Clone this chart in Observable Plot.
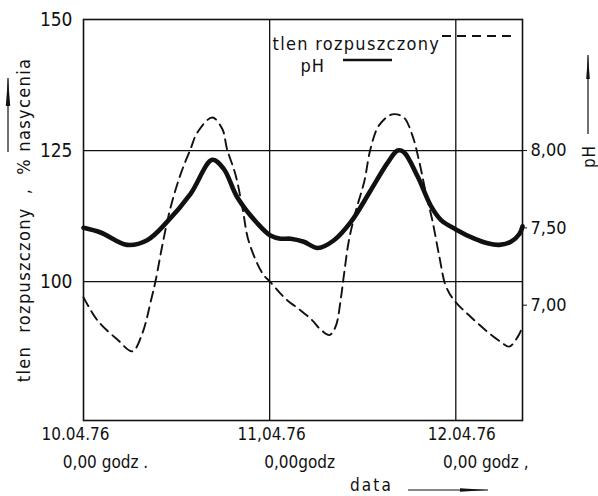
<!DOCTYPE html>
<html>
<head>
<meta charset="utf-8">
<script src="https://cdn.jsdelivr.net/npm/d3@7"></script>
<script src="https://cdn.jsdelivr.net/npm/@observablehq/plot@0.6"></script>
<style>
  html, body { margin: 0; padding: 0; background: #fff; }
  svg { display: block; }
</style>
</head>
<body>
<div id="chart"></div>
<script>
// ---- data ----
const phHours = [0, 2.2, 5.6, 8.2, 10.8, 13.8, 16.6, 18.1, 19.8, 22.4, 24.1, 25.4, 26.7, 28.4, 30.2, 32.3, 34.5, 37.0, 39.2, 40.5, 41.3, 43.1, 44.8, 46.1, 48.0, 50.4, 52.1, 53.6, 55.1, 56.2, 56.6];
const phValues = [7.50, 7.47, 7.39, 7.42, 7.54, 7.72, 7.94, 7.88, 7.70, 7.53, 7.45, 7.43, 7.43, 7.41, 7.37, 7.42, 7.54, 7.74, 7.92, 8.00, 7.99, 7.83, 7.64, 7.55, 7.49, 7.43, 7.40, 7.39, 7.41, 7.46, 7.51];

const o2Hours = [0, 1.8, 4.4, 6.3, 7.6, 8.7, 9.3, 10.2, 11.2, 12.5, 13.8, 14.7, 16.6, 17.9, 18.5, 19.6, 20.5, 21.3, 23.1, 24.1, 25.4, 26.3, 28.0, 29.5, 30.6, 31.7, 32.5, 33.2, 33.6, 34.2, 35.1, 36.2, 37.0, 38.1, 39.8, 41.3, 42.4, 43.3, 44.1, 45.0, 45.9, 46.7, 47.8, 49.9, 52.1, 53.8, 54.9, 56.0, 56.6];
const o2Values = [97.0, 92.6, 88.9, 86.7, 90.2, 96.4, 100.2, 107.2, 114.0, 120.4, 125.3, 128.5, 131.3, 129.1, 125.3, 120.4, 114.0, 107.7, 101.5, 99.9, 97.7, 96.4, 94.5, 92.6, 90.8, 89.8, 91.4, 97.0, 101.5, 107.7, 113.4, 119.1, 125.3, 129.8, 131.9, 131.3, 127.9, 122.8, 117.2, 111.5, 104.6, 99.2, 96.4, 93.3, 90.4, 88.5, 87.6, 89.5, 91.4];

const leftTicks = [100, 125, 150];
const gridY = [100, 125];
const dayTicks = [0, 24, 48];
const gridX = [24, 48];
const phTicks = [8.00, 7.50, 7.00];
const dateLabels = ["10.04.76", "11,04.76", "12.04.76"];
const timeLabels = ["0,00 godz .", "0,00godz", "0,00 godz ,"];
const yTitle = "tlen  rozpuszczony  ,  % nasycenia";
const y2Title = "pH";
const xTitle = "data";
const legendO2 = "tlen rozpuszczony";
const legendPH = "pH";

// pH drawn on the same vertical scale: 8,00 sits on the 125 line
const K = 29.5;
const toV = ph => 125 + (ph - 8) * K;
const fromV = v => (v - 125) / K + 8;

const phData = phHours.map((h, i) => ({h, v: toV(phValues[i])}));
const o2Data = o2Hours.map((h, i) => ({h, v: o2Values[i]}));

const W = 598, H = 496;
const mL = 83, mR = 76, mT = 19, mB = 76;
const FONT = "'DejaVu Sans Condensed', 'Liberation Sans Narrow', 'DejaVu Sans', sans-serif";

const dateMarks = dateLabels.map((t, i) =>
  Plot.text([t], {x: dayTicks[i], frameAnchor: "bottom", dy: 19, dx: [-8, 2, 6][i], fontSize: 17}));
const timeMarks = timeLabels.map((t, i) =>
  Plot.text([t], {x: dayTicks[i], frameAnchor: "bottom", dy: 47, dx: [22, 30, 30][i], fontSize: 17}));

const chart = Plot.plot({
  width: W, height: H,
  marginLeft: mL, marginRight: mR, marginTop: mT, marginBottom: mB,
  style: {fontFamily: FONT, fontSize: "17px", color: "#111", background: "#fff"},
  x: {domain: [0, 56.6], axis: null},
  y: {domain: [73.5, 150], axis: null},
  marks: [
    Plot.ruleY(gridY, {stroke: "#111", strokeWidth: 1.3}),
    Plot.ruleX(gridX, {stroke: "#111", strokeWidth: 1.3}),
    Plot.frame({stroke: "#111", strokeWidth: 1.6}),
    Plot.line(o2Data, {x: "h", y: "v", stroke: "#111", strokeWidth: 1.9, strokeDasharray: "10,6", curve: "catmull-rom"}),
    Plot.line(phData, {x: "h", y: "v", stroke: "#111", strokeWidth: 4.6, curve: "catmull-rom", strokeLinecap: "round"}),
    Plot.axisY(leftTicks, {anchor: "left", tickSize: 0, tickPadding: 11, fontSize: 19, label: null, tickFormat: d => String(d)}),
    Plot.axisY(phTicks.map(toV), {anchor: "right", tickSize: 4, tickPadding: 4, fontSize: 18, label: null,
      tickFormat: v => fromV(v).toFixed(2).replace(".", ",")}),
    ...dateMarks,
    ...timeMarks,
    Plot.text([yTitle], {frameAnchor: "left", textAnchor: "middle", dx: -59, dy: 0, rotate: -90, fontSize: 18}),
    Plot.text([y2Title], {frameAnchor: "top-right", textAnchor: "middle", dx: 60, dy: 137, rotate: -90, fontSize: 17}),
    Plot.text([xTitle], {frameAnchor: "bottom", dx: 371 - (mL + (W - mL - mR) / 2), dy: 70, fontSize: 17}),
    Plot.text([legendO2], {frameAnchor: "top-left", textAnchor: "start", dx: 189, dy: 18, fontSize: 18}),
    Plot.text([legendPH], {frameAnchor: "top-left", textAnchor: "start", dx: 217, dy: 40, fontSize: 18})
  ]
});

document.getElementById("chart").appendChild(chart);

const svg = d3.select(chart);
// letter spacing of the hand-lettered titles
const spacing = new Map([[yTitle, "1.35px"], [legendO2, "1.3px"], [xTitle, "2.2px"], [legendPH, "1px"]]);
svg.selectAll("text").each(function() {
  const s = spacing.get(this.textContent);
  if (s) d3.select(this).style("letter-spacing", s);
});

// decorative legend samples and arrows
const g = svg.append("g").attr("stroke", "#111").attr("fill", "#111");
g.append("line").attr("x1", 442).attr("x2", 512).attr("y1", 36).attr("y2", 36)
  .attr("stroke-width", 1.9).attr("stroke-dasharray", "9,6");
g.append("line").attr("x1", 343).attr("x2", 392).attr("y1", 60).attr("y2", 60)
  .attr("stroke-width", 2.4);

function arrow(x1, y1, x2, y2, len, wid) {
  g.append("line").attr("x1", x1).attr("y1", y1).attr("x2", x2).attr("y2", y2).attr("stroke-width", 1.2);
  const a = Math.atan2(y2 - y1, x2 - x1);
  const bx = x2 - len * Math.cos(a), by = y2 - len * Math.sin(a);
  const px = -Math.sin(a) * wid, py = Math.cos(a) * wid;
  g.append("path").attr("stroke", "none")
    .attr("d", `M${x2},${y2}L${bx + px},${by + py}L${bx - px},${by - py}Z`);
}
arrow(8, 152, 8, 78, 28, 2.2);
arrow(588, 134, 588, 55, 24, 1.8);
arrow(408, 490, 488, 490, 28, 1.8);
</script>
</body>
</html>
